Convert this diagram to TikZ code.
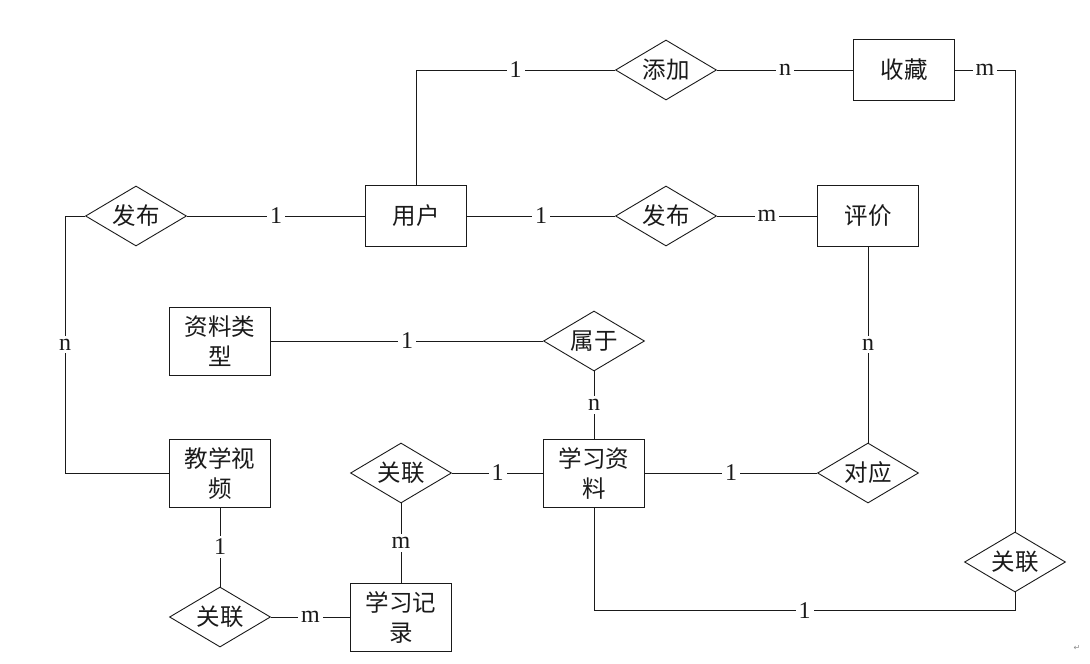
\documentclass[tikz,border=0pt]{standalone}
\usepackage{fontspec}
\setmainfont{Liberation Serif}
\newfontfamily\cjk{Noto Sans CJK SC}
\newfontfamily\symfont{DejaVu Sans}
\usetikzlibrary{
  positioning,
  shapes.geometric
}
\definecolor{erInk}{HTML}{1A1A1A}
\definecolor{erMark}{HTML}{8A8A8A}
\tikzset{
  every node/.style={text=erInk},
  entity/.style={
    draw=erInk,
    line width=0.9pt,
    fill=white,
    minimum width=101pt,
    minimum height=61pt,
    inner sep=0pt,
    align=center,
    font=\cjk\fontsize{23.5}{30}\selectfont
  },
  tallentity/.style={
    entity,
    minimum height=68pt
  },
  relation/.style={
    diamond,
    aspect=2,
    draw=erInk,
    line width=0.9pt,
    fill=white,
    minimum width=101pt,
    minimum height=60pt,
    inner sep=0pt,
    font=\cjk\fontsize{23.5}{26}\selectfont
  },
  card/.style={
    fill=white,
    inner sep=3pt,
    font=\fontsize{24}{24}\selectfont
  },
  conn/.style={
    draw=erInk,
    line width=0.9pt
  }
}

\begin{document}
\begin{tikzpicture}[x=1pt,y=-1pt]
  \useasboundingbox (0,0) rectangle (1090,664);

  \node[entity] (yonghu) at (416,216) {用户};
  \node[entity] (shoucang) at (904,70) {收藏};
  \node[entity] (pingjia) at (868,216) {评价};
  \node[tallentity] (leixing) at (220,341) {资料类\\型};
  \node[tallentity] (shipin) at (220,473) {教学视\\频};
  \node[tallentity] (ziliao) at (594,473) {学习资\\料};
  \node[tallentity] (jilu) at (401,617) {学习记\\录};

  \node[relation] (tianjia) at (666,70) {添加};
  \node[relation] (fabuA) at (136,216) {发布};
  \node[relation] (fabuB) at (666,216) {发布};
  \node[relation] (shuyu) at (594,341) {属于};
  \node[relation] (duiying) at (868,473) {对应};
  \node[relation] (guanlianA) at (401,473) {关联};
  \node[relation] (guanlianB) at (220,617) {关联};
  \node[relation] (guanlianC) at (1015,562) {关联};

  \draw[conn] (yonghu.north) |- node[card, pos=0.75] {1} (tianjia.west);
  \draw[conn] (tianjia.east) -- node[card] {n} (shoucang.west);
  \draw[conn] (shoucang.east) -| node[card, pos=0.25] {m} (guanlianC.north);
  \draw[conn] (guanlianC.south) -- ++(0,18) coordinate (bend)
    -| node[card, pos=0.25] {1} (ziliao.south);

  \draw[conn] (fabuA.east) -- node[card] {1} (yonghu.west);
  \draw[conn] (fabuA.west) -- ++(-20,0) coordinate (turn)
    |- node[card, pos=0.25] {n} (shipin.west);
  \draw[conn] (yonghu.east) -- node[card] {1} (fabuB.west);
  \draw[conn] (fabuB.east) -- node[card] {m} (pingjia.west);
  \draw[conn] (pingjia.south) -- node[card] {n} (duiying.north);

  \draw[conn] (leixing.east) -- node[card] {1} (shuyu.west);
  \draw[conn] (shuyu.south) -- node[card] {n} (ziliao.north);
  \draw[conn] (ziliao.east) -- node[card] {1} (duiying.west);
  \draw[conn] (guanlianA.east) -- node[card] {1} (ziliao.west);
  \draw[conn] (guanlianA.south) -- node[card] {m} (jilu.north);
  \draw[conn] (shipin.south) -- node[card] {1} (guanlianB.north);
  \draw[conn] (guanlianB.east) -- node[card] {m} (jilu.west);

  \node[text=erMark, font=\symfont\fontsize{8}{8}\selectfont] (mark) at (1077,648) {↵};
\end{tikzpicture}
\end{document}
